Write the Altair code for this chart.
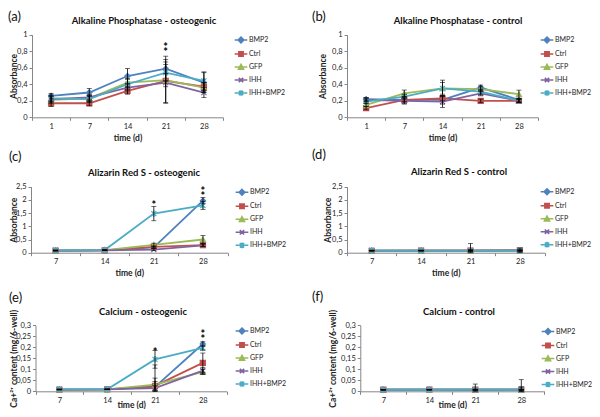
import math
import altair as alt
import pandas as pd

SERIES = ["BMP2", "Ctrl", "GFP", "IHH", "IHH+BMP2"]
COLORS = ["#4F81BD", "#C0504D", "#9BBB59", "#8064A2", "#4BACC6"]
SHAPES = ["diamond", "square", "triangle-up",
          "M-1,-1L1,1M-1,1L1,-1",
          "M-1,-1L1,1M-1,1L1,-1M0,-1.3L0,1.3"]
# legend symbols: a short line with the series marker on it
SHAPES_LEG = ["M-1,0H1M0,-0.45L0.45,0L0,0.45L-0.45,0Z",
              "M-1,0H1M-0.34,-0.34H0.34V0.34H-0.34Z",
              "M-1,0H1M0,-0.4L0.4,0.34H-0.4Z",
              "M-1,0H1M-0.34,-0.34L0.34,0.34M-0.34,0.34L0.34,-0.34",
              "M-1,0H1M-0.34,-0.34L0.34,0.34M-0.34,0.34L0.34,-0.34M0,-0.45V0.45"]

DAYS_ALP = ["1", "7", "14", "21", "28"]
DAYS_MIN = ["7", "14", "21", "28"]

# (a) Alkaline Phosphatase - osteogenic
ALP_OST = {"BMP2": [0.26, 0.30, 0.50, 0.59, 0.42],
           "Ctrl": [0.17, 0.17, 0.32, 0.44, 0.37],
           "GFP": [0.21, 0.23, 0.42, 0.45, 0.36],
           "IHH": [0.22, 0.24, 0.36, 0.42, 0.30],
           "IHH+BMP2": [0.23, 0.22, 0.40, 0.54, 0.44]}
ALP_OST_ERR = {"BMP2": [0.03, 0.05, 0.09, 0.15, 0.12],
               "Ctrl": [0.04, 0.03, 0.04, 0.26, 0.05],
               "GFP": [0.04, 0.04, 0.05, 0.08, 0.06],
               "IHH": [0.04, 0.03, 0.04, 0.25, 0.06],
               "IHH+BMP2": [0.04, 0.04, 0.06, 0.10, 0.11]}
ALP_OST_STARS = [("21", 0.81), ("21", 0.87)]

# (b) Alkaline Phosphatase - control
ALP_CTL = {"BMP2": [0.22, 0.21, 0.21, 0.36, 0.21],
           "Ctrl": [0.11, 0.21, 0.23, 0.20, 0.20],
           "GFP": [0.15, 0.29, 0.35, 0.34, 0.28],
           "IHH": [0.21, 0.20, 0.19, 0.29, 0.20],
           "IHH+BMP2": [0.19, 0.25, 0.35, 0.31, 0.20]}
ALP_CTL_ERR = {"BMP2": [0.02, 0.04, 0.05, 0.03, 0.02],
               "Ctrl": [0.02, 0.02, 0.03, 0.02, 0.02],
               "GFP": [0.02, 0.04, 0.07, 0.03, 0.05],
               "IHH": [0.02, 0.04, 0.07, 0.03, 0.02],
               "IHH+BMP2": [0.02, 0.03, 0.10, 0.03, 0.02]}

# (c) Alizarin Red S - osteogenic
ARS_OST = {"BMP2": [0.08, 0.09, 0.20, 1.97],
           "Ctrl": [0.08, 0.09, 0.22, 0.29],
           "GFP": [0.08, 0.10, 0.30, 0.50],
           "IHH": [0.08, 0.09, 0.12, 0.28],
           "IHH+BMP2": [0.09, 0.10, 1.48, 1.79]}
ARS_OST_ERR = {"BMP2": [0.01, 0.01, 0.05, 0.12],
               "Ctrl": [0.01, 0.01, 0.03, 0.05],
               "GFP": [0.01, 0.01, 0.06, 0.15],
               "IHH": [0.01, 0.01, 0.04, 0.04],
               "IHH+BMP2": [0.01, 0.01, 0.27, 0.15]}
ARS_OST_STARS = [("21", 1.90), ("28", 2.24), ("28", 2.42)]

# (d) Alizarin Red S - control
ARS_CTL = {"BMP2": [0.08, 0.08, 0.08, 0.08],
           "Ctrl": [0.07, 0.08, 0.08, 0.09],
           "GFP": [0.08, 0.08, 0.08, 0.08],
           "IHH": [0.08, 0.08, 0.08, 0.09],
           "IHH+BMP2": [0.08, 0.08, 0.08, 0.08]}
ARS_CTL_ERR = {"BMP2": [0.01, 0.01, 0.02, 0.02],
               "Ctrl": [0.01, 0.01, 0.02, 0.08],
               "GFP": [0.01, 0.01, 0.02, 0.02],
               "IHH": [0.01, 0.01, 0.27, 0.02],
               "IHH+BMP2": [0.01, 0.01, 0.02, 0.02]}

# (e) Calcium - osteogenic
CA_OST = {"BMP2": [0.008, 0.009, 0.020, 0.215],
          "Ctrl": [0.008, 0.009, 0.025, 0.129],
          "GFP": [0.008, 0.009, 0.030, 0.088],
          "IHH": [0.008, 0.009, 0.015, 0.094],
          "IHH+BMP2": [0.009, 0.009, 0.145, 0.197]}
CA_OST_ERR = {"BMP2": [0.001, 0.001, 0.10, 0.01],
              "Ctrl": [0.001, 0.001, 0.02, 0.045],
              "GFP": [0.001, 0.001, 0.03, 0.012],
              "IHH": [0.001, 0.001, 0.01, 0.015],
              "IHH+BMP2": [0.001, 0.001, 0.04, 0.01]}
CA_OST_STARS = [("21", 0.186), ("28", 0.245), ("28", 0.268)]

# (f) Calcium - control
CA_CTL = {"BMP2": [0.007, 0.007, 0.007, 0.007],
          "Ctrl": [0.007, 0.008, 0.007, 0.007],
          "GFP": [0.007, 0.007, 0.007, 0.007],
          "IHH": [0.007, 0.008, 0.007, 0.008],
          "IHH+BMP2": [0.007, 0.007, 0.007, 0.007]}
CA_CTL_ERR = {"BMP2": [0.001, 0.001, 0.002, 0.002],
              "Ctrl": [0.001, 0.001, 0.002, 0.046],
              "GFP": [0.001, 0.001, 0.002, 0.002],
              "IHH": [0.001, 0.001, 0.026, 0.012],
              "IHH+BMP2": [0.001, 0.001, 0.002, 0.002]}

W, H = 584, 401
FONT = "Lato"
AXIS_GREY = "#868686"
SYM = 160
SW = 1.6
COLW = math.ceil(math.sqrt(SYM) + SW)


def panel(days, vals, errs, stars, xr, yr, ydom, yticks, ytitle, ytx, xty, leg):
    rows = []
    for s in SERIES:
        for i, (d, v, e) in enumerate(zip(days, vals[s], errs[s])):
            rows.append({"day": d, "idx": i, "series": s, "lg": s,
                         "value": v, "lo": max(v - e, 0), "hi": v + e})
    df = pd.DataFrame(rows)
    xs = alt.Scale(type="band", domain=days, range=xr, paddingInner=0, paddingOuter=0)
    ys = alt.Scale(domain=ydom, range=yr, nice=False, zero=False)
    xaxis = alt.Axis(orient="bottom", offset=yr[0] - H, ticks=True, tickBand="extent",
                     tickSize=3, tickColor=AXIS_GREY, grid=False,
                     domainColor=AXIS_GREY, labelFont=FONT, labelFontSize=7.5,
                     labelColor="#222", labelAngle=0, labelPadding=2,
                     title="time (d)", titleFont=FONT, titleFontSize=8.5,
                     titleFontWeight="bold", titleColor="#222",
                     titleX=(xr[0] + xr[1]) / 2, titleY=xty, titleBaseline="middle")
    yaxis = alt.Axis(orient="left", offset=-xr[0], values=yticks, grid=False,
                     tickSize=3, tickColor=AXIS_GREY, domainColor=AXIS_GREY,
                     labelFont=FONT, labelFontSize=7.5, labelColor="#222",
                     labelExpr="replace(format(datum.value, '~g'), '.', ',')",
                     title=ytitle, titleFont=FONT, titleFontSize=8.5,
                     titleFontWeight="bold", titleColor="#222", titleAngle=270,
                     titleX=ytx - xr[0], titleY=(yr[0] + yr[1]) / 2,
                     titleBaseline="middle", titleAlign="center")
    X = alt.X("day:N", scale=xs, axis=xaxis)
    Y = alt.Y("value:Q", scale=ys, axis=yaxis)

    lx, tx, ly, sp = leg
    legend = alt.Legend(orient="none", legendX=lx - COLW / 2, legendY=ly - COLW / 2,
                        title=None, symbolSize=SYM, symbolStrokeWidth=SW,
                        labelFont=FONT, labelFontSize=7, labelColor="#222",
                        labelOffset=max(0, tx - lx - COLW / 2),
                        rowPadding=sp - COLW, padding=0)

    base = alt.Chart(df)
    lines = base.mark_line(strokeWidth=1.8).encode(
        x=X, y=Y, order="idx:Q",
        color=alt.Color("series:N", scale=alt.Scale(domain=SERIES, range=COLORS),
                        legend=None))
    pts = base.mark_point(filled=True, size=26, opacity=1, strokeWidth=1.2).encode(
        x=X, y=Y,
        fill=alt.Fill("series:N", scale=alt.Scale(domain=SERIES, range=COLORS), legend=None),
        stroke=alt.Stroke("series:N", scale=alt.Scale(domain=SERIES, range=COLORS), legend=None),
        shape=alt.Shape("series:N", scale=alt.Scale(domain=SERIES, range=SHAPES), legend=None))
    key = base.transform_filter("false").mark_point(filled=True, opacity=1).encode(
        x=X, y=Y,
        fill=alt.Fill("lg:N", scale=alt.Scale(domain=SERIES, range=COLORS), legend=legend),
        stroke=alt.Stroke("lg:N", scale=alt.Scale(domain=SERIES, range=COLORS), legend=legend),
        shape=alt.Shape("lg:N", scale=alt.Scale(domain=SERIES, range=SHAPES_LEG), legend=legend))
    bars = base.mark_rule(color="#000", strokeWidth=0.8).encode(
        x=X, y=alt.Y("lo:Q", scale=ys, axis=yaxis), y2="hi:Q")
    cap_lo = base.mark_tick(color="#000", size=5, thickness=0.8).encode(
        x=X, y=alt.Y("lo:Q", scale=ys, axis=yaxis))
    cap_hi = base.mark_tick(color="#000", size=5, thickness=0.8).encode(
        x=X, y=alt.Y("hi:Q", scale=ys, axis=yaxis))
    layers = [lines, pts, bars, cap_lo, cap_hi, key]
    if stars:
        sdf = pd.DataFrame({"day": [s[0] for s in stars], "value": [s[1] for s in stars]})
        layers.append(alt.Chart(sdf).mark_text(text="*", font=FONT, fontSize=11,
                                               fontWeight="bold", color="#000", dy=3)
                      .encode(x=X, y=Y))
    return alt.layer(*layers).resolve_scale(
        fill="independent", stroke="independent", shape="independent").resolve_legend(
        fill="independent", stroke="independent", shape="independent")


def label(text, x, y, size, weight="normal", align="center"):
    return alt.Chart(pd.DataFrame({"t": [text]})).mark_text(
        font=FONT, fontSize=size, fontWeight=weight, align=align,
        baseline="middle", color="#111").encode(
        text="t:N", x=alt.value(x), y=alt.value(y))


ABS = "Absorbance"
CAT = "Ca+²⁺ content (mg/6-well)"
T1 = [0, 0.2, 0.4, 0.6, 0.8, 1]
T2 = [0, 0.5, 1, 1.5, 2, 2.5]
T3 = [0, 0.05, 0.1, 0.15, 0.2, 0.25, 0.3]

pa = panel(DAYS_ALP, ALP_OST, ALP_OST_ERR, ALP_OST_STARS, [24, 215], [109.3, 26.7],
           [0, 1], T1, ABS, 5, 20, (233, 241, 32, 14.5))
pb = panel(DAYS_ALP, ALP_CTL, ALP_CTL_ERR, None, [339, 530], [109.3, 26.7],
           [0, 1], T1, ABS, 314, 20, (539, 547, 32, 14.5))
pc = panel(DAYS_MIN, ARS_OST, ARS_OST_ERR, ARS_OST_STARS, [23, 219.5], [244.7, 178.7],
           [0, 2.5], T2, ABS, 5, 20, (234, 242, 184.3, 13.4))
pd_ = panel(DAYS_MIN, ARS_CTL, ARS_CTL_ERR, None, [339, 536.6], [244.7, 178.7],
            [0, 2.5], T2, ABS, 319, 20, (539, 547, 183.7, 13.6))
pe = panel(DAYS_MIN, CA_OST, CA_OST_ERR, CA_OST_STARS, [27.5, 218.7], [383.3, 317.3],
           [0, 0.3], T3, CAT, 5, 13, (234, 242, 323, 13.5))
pf = panel(DAYS_MIN, CA_CTL, CA_CTL_ERR, None, [352.3, 536.3], [383.3, 317.3],
           [0, 0.3], T3, CAT, 324, 13, (540, 548, 323.5, 13.5))

texts = [
    label("(a)", 0, 9, 13, align="left"),
    label("(b)", 304, 9, 13, align="left"),
    label("(c)", 1, 149, 13, align="left"),
    label("(d)", 304, 147, 13, align="left"),
    label("(e)", 1, 290, 13, align="left"),
    label("(f)", 304, 289, 13, align="left"),
    label("Alkaline Phosphatase - osteogenic", 136, 13, 9.5, "bold"),
    label("Alkaline Phosphatase - control", 450, 13, 9.5, "bold"),
    label("Alizarin Red S - osteogenic", 136, 165, 9.5, "bold"),
    label("Alizarin Red S - control", 451, 164, 9.5, "bold"),
    label("Calcium - osteogenic", 135, 304, 9.5, "bold"),
    label("Calcium - control", 451, 304, 9.5, "bold"),
]

res = dict(x="independent", y="independent", color="independent",
           fill="independent", stroke="independent", shape="independent")
chart = alt.layer(pa, pb, pc, pd_, pe, pf, *texts).resolve_scale(**res).resolve_axis(
    x="independent", y="independent").resolve_legend(
    color="independent", fill="independent", stroke="independent",
    shape="independent").properties(
    width=W, height=H, padding=0, autosize=alt.AutoSizeParams(type="none"),
    background="white").configure_view(stroke=None)

chart.save("out.html", embed_options={"renderer": "svg", "actions": False})
